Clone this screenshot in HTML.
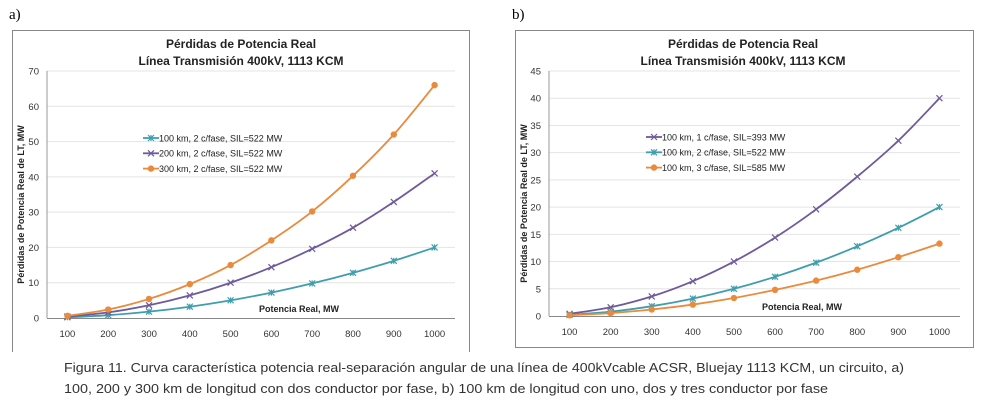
<!DOCTYPE html>
<html><head><meta charset="utf-8"><style>
body{margin:0;background:#fff;width:984px;height:415px;overflow:hidden;font-family:"Liberation Sans",sans-serif}
svg{position:absolute;left:0;top:0}
</style></head><body>
<svg id="s" width="984" height="415">
<text x="9" y="19" font-family="Liberation Serif" font-size="15">a)</text>
<text x="512" y="19" font-family="Liberation Serif" font-size="15">b)</text>
<path d="M12.5,352 V30.5 H469.5 V352" fill="none" stroke="#888"/>
<rect x="515.5" y="30.5" width="458" height="317" fill="none" stroke="#888"/>
<text x="64" y="372" font-size="12.5" fill="#333" textLength="840" lengthAdjust="spacingAndGlyphs">Figura 11. Curva característica potencia real-separación angular de una línea de 400kVcable ACSR, Bluejay 1113 KCM, un circuito, a)</text>
<text x="64" y="393" font-size="12.5" fill="#333" textLength="764" lengthAdjust="spacingAndGlyphs">100, 200 y 300 km de longitud con dos conductor por fase, b) 100 km de longitud con uno, dos y tres conductor por fase</text>
</svg>
<script>
const cats=[100,200,300,400,500,600,700,800,900,1000];
const aS1=[0.2,0.8,1.8,3.2,5,7.2,9.8,12.8,16.2,20];
const aS2=[0.4,1.6,3.6,6.4,10,14.4,19.6,25.6,32.9,41];
const aS3=[0.6,2.4,5.4,9.6,15,22,30.2,40.3,52,66];
const aTicks=[0,10,20,30,40,50,60,70];
const aNames=["100 km, 2 c/fase, SIL=522 MW","200 km, 2 c/fase, SIL=522 MW","300 km, 2 c/fase, SIL=522 MW"];
const bS1=[0.4,1.6,3.6,6.4,10,14.4,19.6,25.6,32.2,40];
const bS2=[0.2,0.8,1.8,3.2,5,7.2,9.8,12.8,16.2,20];
const bS3=[0.13,0.53,1.2,2.1,3.3,4.8,6.5,8.5,10.8,13.3];
const bTicks=[0,5,10,15,20,25,30,35,40,45];
const bNames=["100 km, 1 c/fase, SIL=393 MW","100 km, 2 c/fase, SIL=522 MW","100 km, 3 c/fase, SIL=585 MW"];
const TEAL="#3f9eae",PURP="#6e5a9c",ORNG="#ea8a3c";
const svg=document.getElementById('s');const NS="http://www.w3.org/2000/svg";
function mk(t,a,name){const e=document.createElementNS(NS,t);for(const k in a)e.setAttribute(k,a[k]);


svg.appendChild(e);return e;}
function chart(c){
 const X0=c.x0,X1=c.x1,Y0=c.y0,Y1=c.y1,max=c.ticks[c.ticks.length-1];
 const step=(X1-X0)/cats.length;
 const xs=i=>X0+step*(i+0.5);
 const ys=v=>Y0-(v/max)*(Y0-Y1);
 c.ticks.forEach(t=>{
  if(t>0)mk('line',{x1:X0,x2:X1,y1:ys(t),y2:ys(t),stroke:'#e4e4e4'},c.p+'gridline');
  const tx=mk('text',{x:X0-8,y:ys(t)+3.5,'font-size':9.5,'text-anchor':'end',fill:'#333'},c.p+'y-tick-label');tx.textContent=t;
 });
 mk('line',{x1:X0,x2:X0,y1:Y1,y2:Y0,stroke:'#999'},c.p+'y-axis');
 mk('line',{x1:X0,x2:X1,y1:Y0+.5,y2:Y0+.5,stroke:'#888'},c.p+'x-axis');
 cats.forEach((v,i)=>{const tx=mk('text',{x:xs(i),y:Y0+19,'font-size':9.5,'text-anchor':'middle',fill:'#333'},c.p+'x-tick-label');tx.textContent=v;});
 const tt=mk('text',{x:c.tx,y:48,'font-size':12,'font-weight':'bold','text-anchor':'middle',fill:'#222'},c.p+'title');tt.textContent='Pérdidas de Potencia Real';
 const t2=mk('text',{x:c.tx,y:65,'font-size':12,'font-weight':'bold','text-anchor':'middle',fill:'#222'},c.p+'title');t2.textContent='Línea  Transmisión 400kV, 1113 KCM';
 const yt=mk('text',{x:0,y:0,'font-size':9,'font-weight':'bold','text-anchor':'middle',fill:'#222',transform:`translate(${c.yx},${(Y0+Y1)/2+10}) rotate(-90)`},c.p+'y-axis-title');yt.textContent='Pérdidas de Potencia Real de  LT, MW';
 const xt=mk('text',{x:c.xtx,y:Y0-6,'font-size':9,'font-weight':'bold','text-anchor':'middle',fill:'#222'},c.p+'x-axis-title');xt.textContent='Potencia Real, MW';
 c.series.forEach((s,k)=>{
  const P=s.d.map((v,i)=>[xs(i),ys(v)]);
  let d='M'+P[0];
  for(let i=0;i<P.length-1;i++){const p0=P[Math.max(0,i-1)],p1=P[i],p2=P[i+1],p3=P[Math.min(P.length-1,i+2)];
   d+=` C${p1[0]+(p2[0]-p0[0])/6},${p1[1]+(p2[1]-p0[1])/6} ${p2[0]-(p3[0]-p1[0])/6},${p2[1]-(p3[1]-p1[1])/6} ${p2[0]},${p2[1]}`;}
  mk('path',{d:d,fill:'none',stroke:s.col,'stroke-width':1.8},c.p+'series-line');
  P.forEach(p=>marker(p[0],p[1],s,c.p+'series-marker'));
  const ly=c.ly+k*15.3;
  mk('line',{x1:c.lx,x2:c.lx+16,y1:ly,y2:ly,stroke:s.col,'stroke-width':1.8},c.p+'legend-line');
  marker(c.lx+8,ly,s,c.p+'legend-marker');
  const lt=mk('text',{x:c.lx+16,y:ly+3.3,'font-size':9,fill:'#222'},c.p+'legend-entry');lt.textContent=s.n;
 });
}
function marker(x,y,s,name){
 if(s.m==='o')mk('circle',{cx:x,cy:y,r:3.2,fill:s.col},name);
 else{const r=3;mk('path',{d:`M${x-r},${y-r}L${x+r},${y+r}M${x-r},${y+r}L${x+r},${y-r}`+(s.m==='*'?`M${x},${y-r}V${y+r}`:''),stroke:s.col,'stroke-width':1.2,fill:'none'},name);}
}
chart({p:'a-',x0:47,x1:455,y0:318,y1:71,ticks:aTicks,tx:241,yx:24,xtx:299,lx:143,ly:138,
 series:[{d:aS1,col:TEAL,m:'*',n:aNames[0]},{d:aS2,col:PURP,m:'x',n:aNames[1]},{d:aS3,col:ORNG,m:'o',n:aNames[2]}]});
chart({p:'b-',x0:549,x1:960,y0:316,y1:71,ticks:bTicks,tx:743,yx:527,xtx:802,lx:646,ly:137,
 series:[{d:bS1,col:PURP,m:'x',n:bNames[0]},{d:bS2,col:TEAL,m:'*',n:bNames[1]},{d:bS3,col:ORNG,m:'o',n:bNames[2]}]});
</script>
</body></html>
